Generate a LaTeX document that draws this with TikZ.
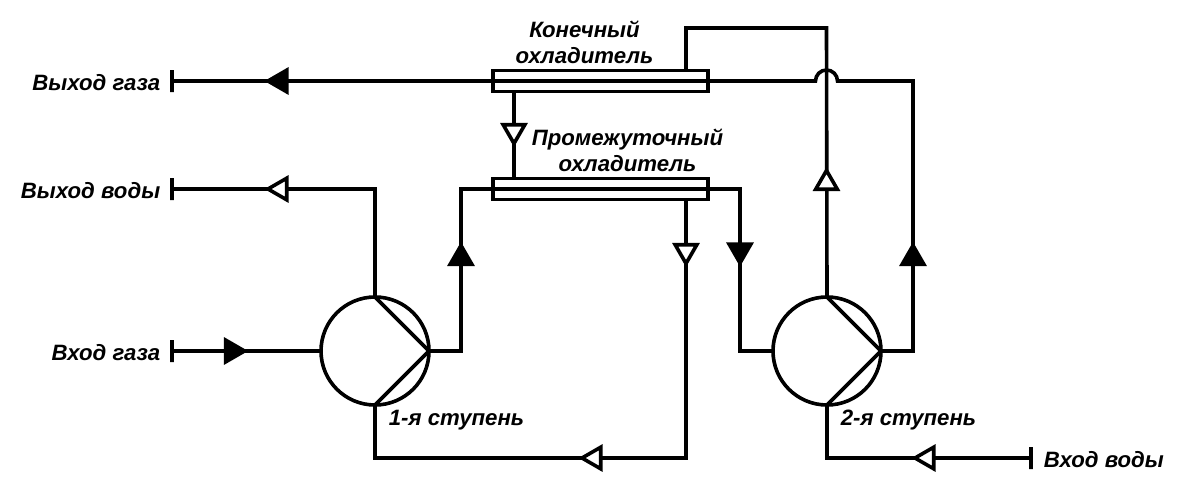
\documentclass[tikz,border=0pt]{standalone}
\usepackage{fontspec}
\setmainfont{Liberation Sans}
\usetikzlibrary{positioning,shapes.geometric}
\tikzstyle{cooler} = [rectangle, draw=black, fill=white, minimum width=215pt, minimum height=21pt, inner sep=0pt, outer sep=0pt]
\tikzstyle{pump} = [circle, draw=black, fill=white, minimum size=108pt, inner sep=0pt, outer sep=0pt]
\tikzstyle{endtick} = [rectangle, draw=black, minimum width=0pt, minimum height=22pt, inner sep=0pt, outer sep=0pt]
\tikzstyle{flowopen} = [regular polygon, regular polygon sides=3, draw=black, fill=white, minimum size=25pt, inner sep=0pt, outer sep=0pt]
\tikzstyle{flowfull} = [flowopen, fill=black]
\tikzstyle{tag} = [inner sep=0pt, font=\fontsize{22.2}{26}\selectfont\bfseries\itshape, align=center]
\tikzstyle{line} = [draw]

\begin{document}
\begin{tikzpicture}[x=1pt, y=-1pt, line width=3.6pt]
	\useasboundingbox (0,0) rectangle (1181,490);
	% Place nodes
	\node [cooler] (finalcool) at (600.5,81) {};
	\node [cooler] (intercool) at (600.5,189) {};
	\node [pump] (pumpa) at (375,351) {};
	\node [pump] (pumpb) at (827,351) {};
	\node [endtick] (gasout) at (172,81) {};
	\node [endtick] (waterout) at (172,189) {};
	\node [endtick] (gasin) at (172,351) {};
	\node [endtick] (waterin) at (1031,458) {};
	\coordinate (topbend) at (826.5,28);
	\coordinate (jumpin) at (815.5,81);
	\coordinate (jumpout) at (837.5,81);
	\coordinate (gasright) at (913,81);
	\coordinate (bottombend) at (686,458);
	% Draw edges
	\path [line] (gasout) -- (finalcool.center) -- (finalcool.east) -- (jumpin) arc [start angle=180, end angle=0, radius=11pt] -- (gasright) |- (pumpb.east);
	\path [line] ([xshift=85.5pt]finalcool.north) |- (topbend) -- (pumpb.north);
	\path [line] ([xshift=-86.5pt]finalcool.south) -- ([xshift=-86.5pt]intercool.north);
	\path [line] (waterout) -| (pumpa.north);
	\path [line] (pumpa.east) -| (461,189) -- (intercool.center) -| (740,351) -- (pumpb.west);
	\path [line] ([xshift=85.5pt]intercool.south) -- (bottombend) -| (pumpa.south);
	\path [line] (gasin) -- (pumpa.west);
	\path [line] (waterin) -| (pumpb.south);
	\path [line, line join=miter] (pumpa.north) -- (pumpa.east) -- (pumpa.south);
	\path [line, line join=miter] (pumpb.north) -- (pumpb.east) -- (pumpb.south);
	% Flow marks
	\node [flowfull, rotate=90] (gasoutmark) at (280.5,81) {};
	\node [flowopen, rotate=90] (wateroutmark) at (280.5,189) {};
	\node [flowfull, rotate=-90] (gasinmark) at (232,351) {};
	\node [flowfull] (pumpamark) at (461,258) {};
	\node [flowfull] (pumpbmark) at (913,258) {};
	\node [flowopen] (risermark) at (826.5,183) {};
	\node [flowopen, rotate=180] (linkmark) at (514,131) {};
	\node [flowfull, rotate=180] (gasdownmark) at (740,250.5) {};
	\node [flowopen, rotate=180] (waterdownmark) at (686,251) {};
	\node [flowopen, rotate=90] (returnmark) at (594.5,458) {};
	\node [flowopen, rotate=90] (waterinmark) at (927.5,458) {};
	% Labels
	\node [tag, left=10pt of gasout, yshift=-2pt] (gasoutlabel) {Выход газа};
	\node [tag, left=10pt of waterout, yshift=-2pt] (wateroutlabel) {Выход воды};
	\node [tag, left=10pt of gasin, yshift=-2pt] (gasinlabel) {Вход газа};
	\node [tag, right=11pt of waterin, yshift=-2pt] (waterinlabel) {Вход воды};
	\node [tag, above=5pt of finalcool, xshift=-16pt] (finallabel) {Конечный\\охладитель};
	\node [tag, above=5pt of intercool, xshift=27pt] (interlabel) {Промежуточный\\охладитель};
	\node [tag, below right=3pt and 12pt of pumpa.south] (pumpalabel) {1-я ступень};
	\node [tag, below right=3pt and 12pt of pumpb.south] (pumpblabel) {2-я ступень};
\end{tikzpicture}
\end{document}
